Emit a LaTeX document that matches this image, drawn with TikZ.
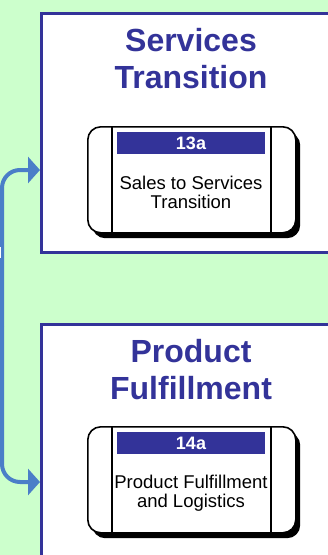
\documentclass[tikz,border=0pt]{standalone}
\usepackage{fontspec}
\setmainfont{Liberation Sans}
\usetikzlibrary{arrows.meta}
\definecolor{bg}{HTML}{CCFFCC}
\definecolor{navy}{HTML}{333399}
\definecolor{flowblue}{RGB}{74,126,200}
\tikzset{
 panel/.style={draw=navy, line width=2.5pt, fill=white, anchor=north west, minimum width=300pt, inner sep=0pt},
 paneltitle/.style={font=\fontsize{32}{37}\selectfont\bfseries, text=navy, align=center},
 cardbody/.style={draw=black, line width=1.6pt, fill=white, rounded corners=13pt, minimum width=208pt, minimum height=106pt, anchor=north west, inner sep=0pt},
 cardshadow/.style={fill=black, rounded corners=13pt, minimum width=208pt, minimum height=106pt, anchor=north west, inner sep=0pt},
 cardhead/.style={fill=navy, text=white, font=\fontsize{18}{19}\selectfont\bfseries, minimum width=148pt, minimum height=22pt, inner sep=0pt},
 cardtext/.style={font=\fontsize{18.5}{19}\selectfont, align=center},
 divider/.style={draw=black, line width=1.2pt},
 flow/.style={draw=flowblue, line width=4pt, rounded corners=18pt},
 tip/.style={-{Triangle[width=26pt,length=12pt]}}
}
\begin{document}
\begin{tikzpicture}[x=1pt,y=-1pt]
\useasboundingbox (0,0) rectangle (328,555);
\fill[bg] (0,0) rectangle (328,555);
% panels
\node[panel, minimum height=239pt] (p1) at (40,12) {};
\node[panel, minimum height=250pt] (p2) at (40,323) {};
\node[paneltitle] (pt1) at (191,58.5) {Services\\Transition};
\node[paneltitle] (pt2) at (191,370) {Product\\Fulfillment};
% card 1
\node[cardshadow] (s1) at (92,132) {};
\node[cardbody] (c1) at (87,126) {};
\draw[divider] (c1.north west) ++(25,0) -- ++(0,106);
\draw[divider] (c1.north west) ++(184,0) -- ++(0,106);
\node[cardhead] (h1) at (191,143) {13a};
\node[cardtext] (x1) at (191,192.5) {Sales to Services\\Transition};
% card 2
\node[cardshadow] (s2) at (92,432) {};
\node[cardbody] (c2) at (87,426) {};
\draw[divider] (c2.north west) ++(25,0) -- ++(0,106);
\draw[divider] (c2.north west) ++(184,0) -- ++(0,106);
\node[cardhead] (h2) at (191,443) {14a};
\node[cardtext] (x2) at (191,493) {Product Fulfillment\\and Logistics};
% connectors
\coordinate (a1) at (p1.west |- 0,170);
\coordinate (a2) at (p2.west |- 0,482);
\coordinate (trunk) at (2,326);
\draw[flow, tip] (trunk) -- (2,170) -- (a1);
\draw[flow, tip] (trunk) -- (2,482) -- (a2);
\fill[white] (0,247) rectangle (1.2,258);
\end{tikzpicture}
\end{document}
